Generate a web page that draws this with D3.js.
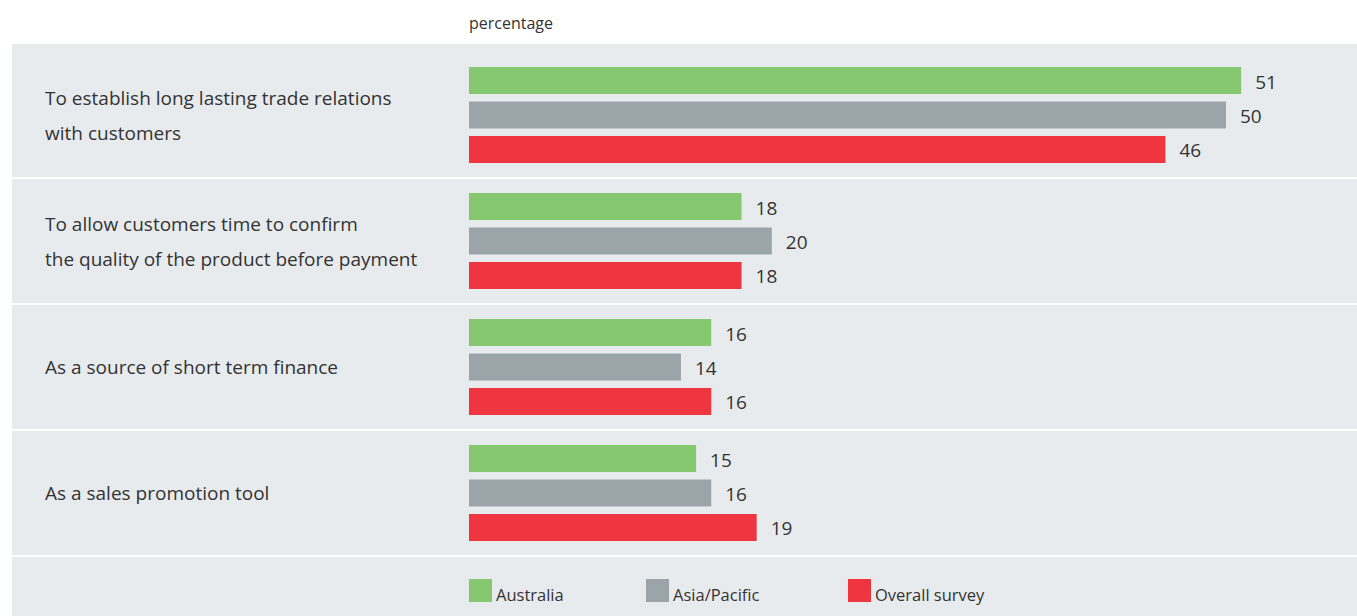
<!DOCTYPE html>
<html>
<head>
<meta charset="utf-8">
<script src="https://cdn.jsdelivr.net/npm/d3@7"></script>
<style>
  html, body { margin: 0; padding: 0; background: #ffffff; }
  svg { display: block; font-family: "Open Sans", sans-serif; }
</style>
</head>
<body>
<svg id="chart" width="1357" height="616"></svg>
<script>
// Reasons for offering trade credit, by region (percentage of respondents)
const categories = [
  ["To establish long lasting trade relations", "with customers"],
  ["To allow customers time to confirm", "the quality of the product before payment"],
  ["As a source of short term finance"],
  ["As a sales promotion tool"]
];
const seriesNames = ["Australia", "Asia/Pacific", "Overall survey"];
const australia   = [51, 18, 16, 15];
const asiaPacific = [50, 20, 14, 16];
const overall     = [46, 18, 16, 19];
const seriesColors = ["#86c86f", "#9aa4a9", "#ef353f"];

const values = [australia, asiaPacific, overall];
const svg = d3.select("#chart");
const W = 1357, H = 616;

// Panel background
svg.append("rect")
  .attr("x", 12).attr("y", 44)
  .attr("width", W - 12).attr("height", H - 44)
  .attr("fill", "#e8ebee");

// Unit label
svg.append("text")
  .attr("x", 469).attr("y", 29)
  .attr("font-size", 16).attr("fill", "#333333")
  .text("percentage");

const rowIdx = d3.range(categories.length);
const y = d3.scaleBand().domain(rowIdx).range([53, 557]).paddingInner(0).paddingOuter(0);
const ySeries = d3.scaleBand().domain(d3.range(seriesNames.length)).range([14, 110]).paddingInner(0.217).paddingOuter(0);
const x = d3.scaleLinear().domain([0, 60]).range([469, 469 + 908.4]);

// White separators between rows
svg.selectAll("rect.sep")
  .data(rowIdx)
  .join("rect")
  .attr("class", "sep")
  .attr("x", 12).attr("width", W - 12)
  .attr("y", i => y(i) + y.bandwidth() - 2)
  .attr("height", 2)
  .attr("fill", "#ffffff");

const rows = svg.selectAll("g.row")
  .data(rowIdx)
  .join("g")
  .attr("class", "row")
  .attr("transform", i => `translate(0,${y(i)})`);

// Category labels
const center = ySeries(0) + (ySeries(seriesNames.length - 1) + ySeries.bandwidth() - ySeries(0)) / 2;
rows.each(function(i) {
  const lines = categories[i];
  const t = d3.select(this).append("text")
    .attr("font-size", 19).attr("fill", "#333333");
  if (lines.length === 1) {
    t.append("tspan").attr("x", 45).attr("y", center + 7).text(lines[0]);
  } else {
    t.append("tspan").attr("x", 45).attr("y", center - 10).text(lines[0]);
    t.append("tspan").attr("x", 45).attr("y", center + 25).text(lines[1]);
  }
});

// Bars and value labels
rows.each(function(i) {
  const g = d3.select(this);
  const d = seriesNames.map((name, s) => ({ s, v: values[s][i] }));
  g.selectAll("rect.bar")
    .data(d)
    .join("rect")
    .attr("class", "bar")
    .attr("x", x(0))
    .attr("y", e => ySeries(e.s))
    .attr("width", e => x(e.v) - x(0))
    .attr("height", ySeries.bandwidth())
    .attr("fill", e => seriesColors[e.s]);
  g.selectAll("text.val")
    .data(d)
    .join("text")
    .attr("class", "val")
    .attr("x", e => x(e.v) + 14)
    .attr("y", e => ySeries(e.s) + ySeries.bandwidth() / 2 + 8)
    .attr("font-size", 19)
    .attr("fill", "#333333")
    .text(e => e.v);
});

// Legend
const legendX = [469, 646, 848];
const legend = svg.selectAll("g.legend")
  .data(seriesNames)
  .join("g")
  .attr("class", "legend")
  .attr("transform", (n, s) => `translate(${legendX[s]},579)`);
legend.append("rect")
  .attr("width", 23).attr("height", 23)
  .attr("fill", (n, s) => seriesColors[s]);
legend.append("text")
  .attr("x", 27).attr("y", 22)
  .attr("font-size", 16.5).attr("fill", "#333333")
  .text(n => n);
</script>
</body>
</html>
